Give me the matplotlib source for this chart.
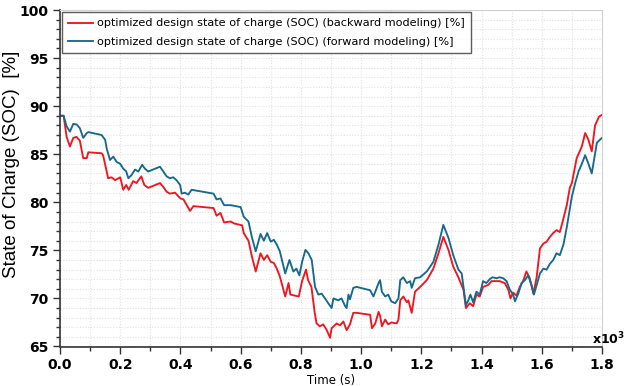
import numpy as np
import matplotlib
matplotlib.use("Agg")
import matplotlib.pyplot as plt
from matplotlib.ticker import MultipleLocator

# time in 10^3 s, state of charge in %
t_backward = [0, 0.012, 0.022, 0.033, 0.044, 0.055, 0.066, 0.077, 0.089, 0.094,
              0.138, 0.143, 0.15, 0.16, 0.171, 0.183, 0.2, 0.21, 0.22, 0.228,
              0.243, 0.254, 0.27, 0.28, 0.293, 0.316, 0.332, 0.343, 0.354, 0.365,
              0.382, 0.4, 0.41, 0.421, 0.432, 0.443, 0.51, 0.52, 0.533, 0.545,
              0.567, 0.578, 0.605, 0.61, 0.62, 0.626, 0.637, 0.65, 0.666, 0.677,
              0.688, 0.7, 0.71, 0.72, 0.73, 0.748, 0.759, 0.765, 0.793, 0.804,
              0.817, 0.824, 0.835, 0.846, 0.852, 0.863, 0.874, 0.886, 0.897, 0.902,
              0.919, 0.93, 0.941, 0.952, 0.963, 0.974, 0.985, 1.03, 1.036, 1.047,
              1.058, 1.063, 1.069, 1.08, 1.09, 1.1, 1.118, 1.124, 1.13, 1.14,
              1.152, 1.157, 1.168, 1.179, 1.196, 1.218, 1.24, 1.257, 1.273, 1.29,
              1.306, 1.323, 1.34, 1.348, 1.361, 1.372, 1.383, 1.394, 1.405, 1.422,
              1.433, 1.46, 1.477, 1.489, 1.496, 1.505, 1.516, 1.527, 1.538, 1.549,
              1.56, 1.572, 1.583, 1.594, 1.605, 1.616, 1.627, 1.638, 1.649, 1.66,
              1.671, 1.683, 1.693, 1.7, 1.716, 1.733, 1.744, 1.755, 1.766, 1.777,
              1.79, 1.8]
soc_backward = [89.0, 89.0, 86.8, 85.8, 86.7, 86.8, 86.4, 84.6, 84.6, 85.2,
                85.1, 84.9, 83.9, 82.5, 82.6, 82.3, 82.6, 81.3, 81.8, 81.3,
                82.2, 82.0, 82.7, 81.8, 81.5, 81.8, 82.0, 81.6, 81.1, 80.9,
                81.0, 80.4, 80.3, 79.7, 79.1, 79.6, 79.4, 78.6, 78.9, 77.9,
                78.0, 77.8, 77.6, 76.8, 76.3, 76.0, 74.4, 72.8, 74.7, 74.0,
                74.5, 73.8, 73.7, 73.1, 72.3, 70.2, 71.6, 70.4, 70.2, 71.8,
                73.0, 71.9, 71.2, 68.5, 67.4, 67.1, 67.3, 66.7, 65.9, 66.9,
                67.4, 67.2, 67.6, 66.7, 67.3, 68.5, 68.5, 68.3, 66.9, 67.4,
                68.6, 68.2, 67.1, 67.8, 67.3, 67.5, 67.4, 67.8, 69.8, 70.2,
                69.6, 69.8, 68.5, 70.7, 71.2, 71.9, 73.1, 74.7, 76.4, 75.05,
                73.3, 72.2, 70.9, 69.0, 69.5, 69.2, 70.4, 70.2, 71.2, 71.4,
                71.8, 71.8, 71.6, 70.9, 70.0, 70.6, 70.3, 71.2, 71.8, 72.8,
                72.1, 70.5, 72.2, 75.2, 75.7, 75.9, 76.4, 76.8, 77.1, 76.9,
                78.2, 79.7, 81.5, 82.0, 84.6, 85.8, 87.2, 86.5, 85.3, 88.0,
                88.9, 89.1]

t_forward = [0, 0.012, 0.022, 0.033, 0.044, 0.055, 0.066, 0.077, 0.089, 0.094,
             0.138, 0.15, 0.155, 0.166, 0.177, 0.188, 0.2, 0.21, 0.22, 0.227,
             0.238, 0.249, 0.26, 0.273, 0.282, 0.293, 0.316, 0.332, 0.343, 0.354,
             0.365, 0.376, 0.387, 0.399, 0.404, 0.415, 0.426, 0.437, 0.51, 0.52,
             0.533, 0.545, 0.567, 0.6, 0.61, 0.626, 0.637, 0.65, 0.666, 0.677,
             0.688, 0.7, 0.71, 0.72, 0.73, 0.748, 0.762, 0.775, 0.785, 0.795,
             0.804, 0.815, 0.825, 0.836, 0.847, 0.858, 0.869, 0.88, 0.891, 0.902,
             0.908, 0.924, 0.935, 0.947, 0.952, 0.958, 0.963, 0.974, 0.985, 1.03,
             1.041, 1.058, 1.063, 1.069, 1.08, 1.09, 1.1, 1.113, 1.124, 1.13,
             1.14, 1.152, 1.163, 1.168, 1.179, 1.196, 1.218, 1.24, 1.257, 1.273,
             1.29, 1.306, 1.323, 1.334, 1.34, 1.348, 1.356, 1.363, 1.372, 1.383,
             1.394, 1.405, 1.416, 1.427, 1.436, 1.45, 1.46, 1.472, 1.483, 1.494,
             1.505, 1.511, 1.522, 1.533, 1.544, 1.555, 1.566, 1.574, 1.585, 1.594,
             1.605, 1.616, 1.627, 1.638, 1.649, 1.66, 1.672, 1.683, 1.7, 1.711,
             1.722, 1.733, 1.744, 1.755, 1.766, 1.783, 1.8]
soc_forward = [89.0, 89.0, 87.9, 87.35, 88.15, 88.1, 87.7, 86.7, 87.2, 87.3,
               87.0, 86.5, 85.6, 84.4, 84.75, 84.2, 84.0, 83.5, 83.2, 82.5,
               82.85, 83.4, 83.2, 83.9, 83.5, 83.2, 83.5, 83.7, 83.2, 82.7,
               82.5, 82.6, 82.3, 81.8, 80.9, 81.0, 80.8, 81.3, 80.9, 80.3,
               80.4, 79.7, 79.7, 79.5, 78.5, 78.0, 76.4, 74.9, 76.7, 76.0,
               76.8, 75.9, 76.1, 75.6, 74.9, 72.6, 74.0, 72.8, 73.1, 72.4,
               73.8, 75.05, 74.7, 74.0, 71.2, 70.4, 70.5, 70.0, 69.5, 69.0,
               70.0, 69.8, 70.0, 69.2, 69.0, 70.4, 69.9, 71.1, 71.2, 70.85,
               70.2, 71.6, 71.9, 70.7, 70.2, 70.4, 69.7, 69.5, 70.0, 71.9,
               72.2, 71.6, 71.8, 71.1, 72.1, 72.2, 72.8, 73.8, 75.6, 77.65,
               76.3, 74.5, 73.0, 72.6, 71.2, 69.3, 69.8, 70.4, 69.6, 70.7,
               70.4, 71.8, 71.6, 72.0, 72.2, 72.1, 72.2, 72.1, 71.8, 70.9,
               70.4, 69.7, 70.5, 71.6, 71.9, 72.4, 71.4, 70.4, 71.6, 72.6,
               73.1, 73.0, 73.6, 74.0, 74.7, 74.5, 75.6, 77.4, 80.6, 82.0,
               83.2, 84.0, 84.9, 84.0, 83.0, 86.2, 86.7]

label_backward = "optimized design state of charge (SOC) (backward modeling) [%]"
label_forward = "optimized design state of charge (SOC) (forward modeling) [%]"

fig = plt.figure(figsize=(6.27, 3.86), dpi=100)
ax = fig.add_axes([60 / 627, 1 - 346.5 / 386, 542 / 627, 336.5 / 386])

ax.plot(t_backward, soc_backward, color="#ef161f", lw=1.35, label=label_backward)
ax.plot(t_forward, soc_forward, color="#156a8b", lw=1.35, label=label_forward)

ax.set_xlim(0, 1.8)
ax.set_ylim(65, 100)
ax.xaxis.set_major_locator(MultipleLocator(0.2))
ax.xaxis.set_minor_locator(MultipleLocator(0.1))
ax.yaxis.set_major_locator(MultipleLocator(5))
ax.yaxis.set_minor_locator(MultipleLocator(1))
ax.xaxis.set_major_formatter(plt.FuncFormatter(lambda v, p: f"{v:.1f}"))

ax.grid(which="both", color="#e2e2e2", linestyle=(0, (1, 1.5)), linewidth=0.8)
ax.set_axisbelow(True)

ax.tick_params(axis="both", which="major", direction="out", length=5, width=1,
               color="#333333", labelsize=10)
ax.tick_params(axis="both", which="minor", direction="out", length=3, width=1,
               color="#333333")
for lab in ax.get_xticklabels() + ax.get_yticklabels():
    lab.set_fontweight("bold")

for side in ("left", "bottom"):
    ax.spines[side].set_color("#333333")
    ax.spines[side].set_linewidth(1.2)
for side in ("top", "right"):
    ax.spines[side].set_color("#d0d0d0")

ax.set_ylabel("State of Charge (SOC)  [%]", family="Liberation Sans", fontsize=13.5)
ax.yaxis.set_label_coords(-0.073, 0.54)
ax.set_xlabel("Time (s)", fontsize=8.5, labelpad=1)

# axis multiplier in the bottom right corner
fig.text(625 / 627, 1 - 344 / 386, r"$\mathbf{x10^{3}}$", fontsize=9,
         ha="right", va="baseline")

leg = ax.legend(loc="upper left", fontsize=8.1, frameon=True, fancybox=False,
                borderaxespad=0.2, handlelength=2.2, handletextpad=0.3,
                borderpad=0.55, labelspacing=0.75)
leg.get_frame().set_edgecolor("#333333")
leg.get_frame().set_linewidth(1.0)

fig.savefig("out.png", dpi=100, facecolor="white")
